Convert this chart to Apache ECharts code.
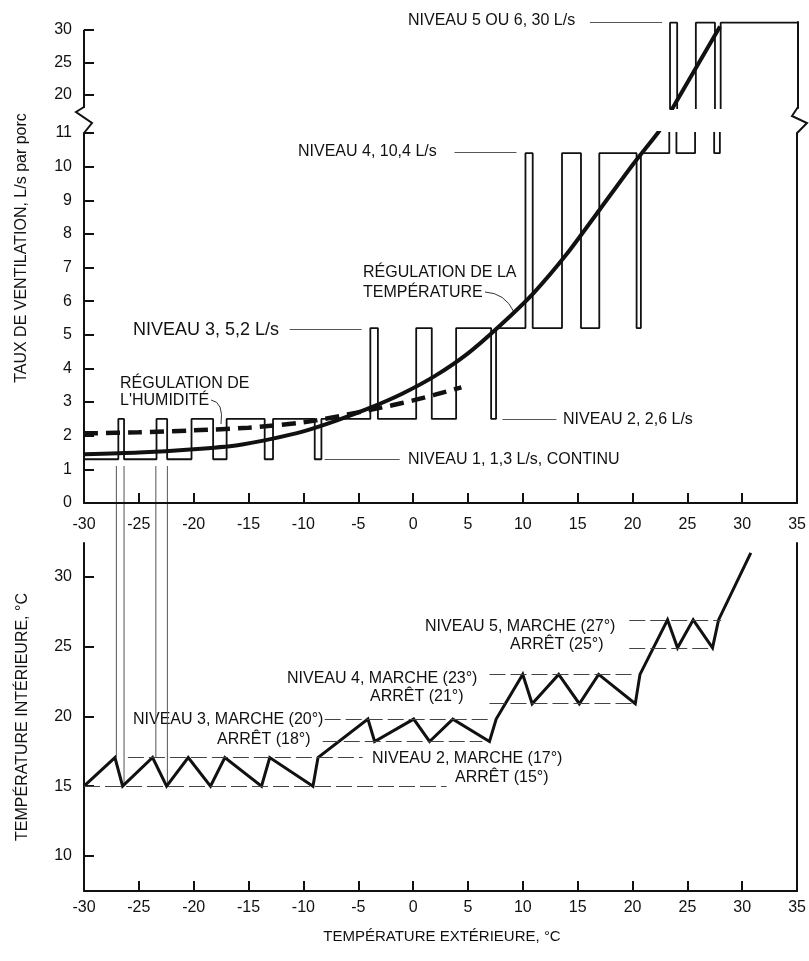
<!DOCTYPE html>
<html><head><meta charset="utf-8">
<script src="https://cdn.jsdelivr.net/npm/echarts@6/dist/echarts.min.js"></script>
<style>html,body{margin:0;padding:0;background:#fff}#c{width:809px;height:961px}</style>
</head><body><div id="c"></div>
<script>
// ---------- DATA ----------
// Ventilation step function (top panel): break points (°C) and level between consecutive breaks (L/s)
const stepBreaks = [-30, -26.87, -26.35, -23.39, -22.42, -20.2, -18.23, -17.0, -13.53, -12.77, -8.97, -8.36,
  -3.9, -3.21, 0.28, 1.70, 3.92, 7.11, 7.56, 10.24, 10.9, 13.57, 15.30, 16.97, 20.37, 20.76,
  23.35, 24.0, 25.7, 27.44, 27.96, 35];
const stepLevels = [1.3, 2.5, 1.3, 2.5, 1.3, 2.5, 1.3, 2.5, 1.3, 2.5, 1.3,
  2.5, 5.2, 2.5, 5.2, 2.5, 5.2, 2.5,
  5.2, 10.4, 5.2, 10.4, 5.2, 10.4, 5.2,
  10.4, 31.1, 10.4, 31.1, 10.4, 31.1];
// Temperature-regulation curve (solid): part below the axis break and part above it
const tempLowX = [-30, -25, -20, -16, -13, -10, -7, -4, -1, 2, 5, 8, 11, 14, 17, 20, 22.3, 22.7];
const tempLowY = [1.45, 1.5, 1.6, 1.72, 1.9, 2.13, 2.45, 2.82, 3.25, 3.78, 4.45, 5.3, 6.25, 7.4, 8.72, 10.05, 11.0, 11.2];
const tempHighX = [23.0, 23.8, 27.9];
const tempHighY = [16.3, 18.6, 30.5];
// Humidity-regulation curve (dashed)
const humCtrlX = [-30, -25, -20, -15, -10, -6, -2, 0, 2, 4.4];
const humCtrlY = [2.07, 2.1, 2.16, 2.24, 2.4, 2.63, 2.9, 3.05, 3.22, 3.44];
// Indoor temperature (bottom panel)
const indoorX = [-30, -27.18, -26.48, -23.75, -22.47, -20.5, -18.47, -17.16, -13.82, -13.07, -9.13, -8.67,
  -4.12, -3.51, 0.05, 1.5, 3.62, 6.96, 7.57, 9.99, 10.85, 13.27, 15.15, 16.91, 20.25, 20.68,
  23.19, 24.1, 25.53, 27.29, 27.84, 30.78];
const indoorY = [15, 17.05, 15, 17.05, 15, 17.05, 15, 17.05, 15, 17.05, 15, 17.05,
  19.8, 18.2, 19.8, 18.2, 19.8, 18.2, 19.8, 23, 20.9, 23, 20.9, 23, 20.9, 23,
  26.9, 24.9, 26.9, 24.9, 26.9, 31.7];
// Set-point reference lines (bottom panel)
const refY  = [15, 17.05, 19.8, 18.2, 23, 20.9, 26.9, 24.9];
const refX0 = [-30, -26.0, -8.06, -8.24, 6.96, 6.96, 19.7, 19.7];
const refX1 = [3.05, -4.6, 7.14, 6.32, 20.34, 19.98, 28.08, 27.26];
// Leader lines of the level labels (top panel)
const leaderY  = [31.1, 10.43, 5.17, 2.5, 1.3];
const leaderX0 = [16.06, 3.77, -11.25, 8.14, -8.06];
const leaderX1 = [22.62, 9.42, -4.69, 13.06, -1.23];
// Vertical link lines between panels
const linkX = [-27.05, -26.35, -23.45, -22.4];
const linkBottomY = [17.05, 15, 17.05, 15];
const linkTopY = 1.1;
// Tick values
const upperTicks = [20, 25, 30];
const bottomTicks = [10, 15, 20, 25, 30];

// ---------- BUILD ----------
const zip = (xs, ys) => xs.map((x, i) => [x, ys[i]]);
const stepData = [];
for (let i = 0; i < stepLevels.length; i++) {
  stepData.push([stepBreaks[i], stepLevels[i]]);
  stepData.push([stepBreaks[i + 1], stepLevels[i]]);
}
const tempLow = zip(tempLowX, tempLowY);
const tempHigh = zip(tempHighX, tempHighY);
const humData = zip(humCtrlX, humCtrlY);
const indoorData = zip(indoorX, indoorY);
const seg = (x0, y0, x1, y1) => [{ coord: [x0, y0] }, { coord: [x1, y1] }];

const FONT = '"Liberation Sans", Arial, sans-serif';
const BLACK = '#111';
const axisLineS = { show: true, onZero: false, lineStyle: { color: BLACK, width: 2 } };
const tickS = { show: true, inside: true, length: 10, lineStyle: { color: BLACK, width: 2 } };
const labelS = { color: BLACK, fontSize: 16, fontFamily: FONT };
const thin = { color: '#555', width: 1, type: 'solid' };
const noAxisLine = { show: false, onZero: false };

const chart = echarts.init(document.getElementById('c'), null, { renderer: 'canvas' });

const option = {
  animation: false,
  backgroundColor: '#fff',
  grid: [
    { left: 84, right: 11, top: 22, height: 86 },
    { left: 84, right: 11, top: 133, height: 370 },
    { left: 84, right: 11, top: 543, height: 348 }
  ],
  xAxis: [
    { gridIndex: 0, type: 'value', min: -30, max: 35, show: false, axisLine: noAxisLine },
    { gridIndex: 1, type: 'value', min: -30, max: 35, interval: 5, axisLine: axisLineS, axisTick: tickS,
      axisLabel: Object.assign({ margin: 14 }, labelS), splitLine: { show: false } },
    { gridIndex: 2, type: 'value', min: -30, max: 35, interval: 5, axisLine: axisLineS, axisTick: tickS,
      axisLabel: Object.assign({ margin: 9 }, labelS), splitLine: { show: false } }
  ],
  yAxis: [
    { gridIndex: 0, type: 'value', min: 18, max: 31.2, axisLine: noAxisLine,
      axisTick: Object.assign({ customValues: upperTicks }, tickS),
      axisLabel: Object.assign({ margin: 12, customValues: upperTicks }, labelS), splitLine: { show: false } },
    { gridIndex: 0, type: 'value', position: 'right', min: 0, max: 1, axisLine: axisLineS,
      axisTick: { show: false }, axisLabel: { show: false }, splitLine: { show: false } },
    { gridIndex: 1, type: 'value', min: 0, max: 11, interval: 1, axisLine: axisLineS, axisTick: tickS,
      axisLabel: Object.assign({ margin: 12 }, labelS), splitLine: { show: false } },
    { gridIndex: 1, type: 'value', position: 'right', min: 0, max: 1, axisLine: axisLineS,
      axisTick: { show: false }, axisLabel: { show: false }, splitLine: { show: false } },
    { gridIndex: 2, type: 'value', min: 7.5, max: 32.4, axisLine: axisLineS,
      axisTick: Object.assign({ customValues: bottomTicks }, tickS),
      axisLabel: Object.assign({ margin: 12, customValues: bottomTicks }, labelS), splitLine: { show: false } },
    { gridIndex: 2, type: 'value', position: 'right', min: 0, max: 1, axisLine: axisLineS,
      axisTick: { show: false }, axisLabel: { show: false }, splitLine: { show: false } }
  ],
  series: [
    { // 0 step upper
      type: 'line', xAxisIndex: 0, yAxisIndex: 0, data: stepData, symbol: 'none', clip: true,
      lineStyle: { color: BLACK, width: 1.8 },
      markLine: { silent: true, symbol: 'none', label: { show: false }, lineStyle: thin,
        data: [seg(leaderX0[0], leaderY[0], leaderX1[0], leaderY[0]),
               [{ coord: [-30, 18], lineStyle: { color: BLACK, width: 2 } }, { coord: [-30, 30] }]] }
    },
    { // 1 step lower
      type: 'line', xAxisIndex: 1, yAxisIndex: 2, data: stepData, symbol: 'none', clip: true,
      lineStyle: { color: BLACK, width: 1.8 },
      markLine: { silent: true, symbol: 'none', label: { show: false }, lineStyle: thin,
        data: [1, 2, 3, 4].map(i => seg(leaderX0[i], leaderY[i], leaderX1[i], leaderY[i])) }
    },
    { // 2 temp curve upper
      type: 'line', xAxisIndex: 0, yAxisIndex: 0, data: tempHigh, symbol: 'none', clip: true,
      lineStyle: { color: BLACK, width: 4 }
    },
    { // 3 temp curve lower
      type: 'line', xAxisIndex: 1, yAxisIndex: 2, data: tempLow, symbol: 'none', clip: true,
      smooth: 0.25, lineStyle: { color: BLACK, width: 4 }
    },
    { // 4 humidity curve
      type: 'line', xAxisIndex: 1, yAxisIndex: 2, data: humData, symbol: 'none', clip: true,
      smooth: 0.3, lineStyle: { color: BLACK, width: 4.5, type: [14, 8] }
    },
    { // 5 indoor temperature
      type: 'line', xAxisIndex: 2, yAxisIndex: 4, data: indoorData, symbol: 'none', clip: true,
      lineStyle: { color: BLACK, width: 3, join: 'miter' },
      markLine: { silent: true, symbol: 'none', label: { show: false },
        lineStyle: { color: '#444', width: 1, type: [16, 5] },
        data: refY.map((y, i) => seg(refX0[i], y, refX1[i], y)) }
    }
  ]
};
chart.setOption(option);

// ---------- GRAPHIC (texts, axis breaks, link lines) ----------
const P = (si, x, y) => chart.convertToPixel({ seriesIndex: si }, [x, y]);
const txt = (text, x, y, extra) => ({
  type: 'text', x: x, y: y, silent: true,
  style: Object.assign({ text: text, font: '16px ' + FONT, fill: BLACK,
    align: 'left', verticalAlign: 'middle', textAlign: 'left', textVerticalAlign: 'middle' }, extra || {})
});
const graphics = [];
graphics.push(txt('NIVEAU 5 OU 6, 30 L/s', 408, 21));
graphics.push(txt('NIVEAU 4, 10,4 L/s', 298, 152));
graphics.push(txt('NIVEAU 3, 5,2 L/s', 133, 330, { font: '18px ' + FONT }));
graphics.push(txt('NIVEAU 2, 2,6 L/s', 563, 420));
graphics.push(txt('NIVEAU 1, 1,3 L/s, CONTINU', 408, 460));
graphics.push(txt('RÉGULATION DE LA', 363, 273));
graphics.push(txt('TEMPÉRATURE', 363, 293));
graphics.push(txt('RÉGULATION DE', 120, 384));
graphics.push(txt("L'HUMIDITÉ", 120, 401));
graphics.push(txt('NIVEAU 5, MARCHE (27°)', 425, 627));
graphics.push(txt('ARRÊT (25°)', 510, 645));
graphics.push(txt('NIVEAU 4, MARCHE (23°)', 287, 679));
graphics.push(txt('ARRÊT (21°)', 370, 697));
graphics.push(txt('NIVEAU 3, MARCHE (20°)', 133, 720));
graphics.push(txt('ARRÊT (18°)', 217, 740));
graphics.push(txt('NIVEAU 2, MARCHE (17°)', 372, 759));
graphics.push(txt('ARRÊT (15°)', 455, 778));
const rotName = (text, x, y) => ({ type: 'text', x: x, y: y, rotation: Math.PI / 2, silent: true,
  style: { text: text, font: '16px ' + FONT, fill: BLACK,
    align: 'center', verticalAlign: 'middle', textAlign: 'center', textVerticalAlign: 'middle' } });
graphics.push(rotName('TAUX DE VENTILATION, L/s par porc', 22, 248));
graphics.push(rotName('TEMPÉRATURE INTÉRIEURE, °C', 23, 717));
graphics.push({ type: 'text', x: 442, y: 937, silent: true,
  style: { text: 'TEMPÉRATURE EXTÉRIEURE, °C', font: '15px ' + FONT, fill: BLACK,
    align: 'center', verticalAlign: 'middle', textAlign: 'center', textVerticalAlign: 'middle' } });
graphics.push({ type: 'bezierCurve', silent: true,
  shape: { x1: 211, y1: 400, cpx1: 224, cpy1: 402, x2: 221, y2: 424 },
  style: { stroke: '#333', lineWidth: 1, fill: null } });
graphics.push({ type: 'bezierCurve', silent: true,
  shape: { x1: 485, y1: 292, cpx1: 505, cpy1: 293, x2: 514, y2: 312 },
  style: { stroke: '#333', lineWidth: 1, fill: null } });
const lTop = P(0, -30, 18), lBot = P(1, -30, 11);
const rTop = P(0, 35, 18), rBot = P(1, 35, 11);
graphics.push({ type: 'polyline', silent: true,
  shape: { points: [[lTop[0], lTop[1] - 1], [lTop[0] - 8, lTop[1] + 4], [lTop[0] + 8, lTop[1] + 15], [lBot[0], lBot[1]]] },
  style: { stroke: BLACK, lineWidth: 2, fill: null } });
graphics.push({ type: 'polyline', silent: true,
  shape: { points: [[rTop[0], rTop[1] - 1], [rTop[0] - 6, rTop[1] + 8], [rTop[0] + 9, rTop[1] + 15], [rBot[0], rBot[1]]] },
  style: { stroke: BLACK, lineWidth: 2, fill: null } });
linkX.forEach((x, i) => {
  const a = P(1, x, linkTopY), b = P(5, x, linkBottomY[i]);
  graphics.push({ type: 'line', silent: true, shape: { x1: a[0], y1: a[1], x2: b[0], y2: b[1] },
    style: { stroke: '#555', lineWidth: 1 } });
});
chart.setOption({ graphic: { elements: graphics } });
</script></body></html>
